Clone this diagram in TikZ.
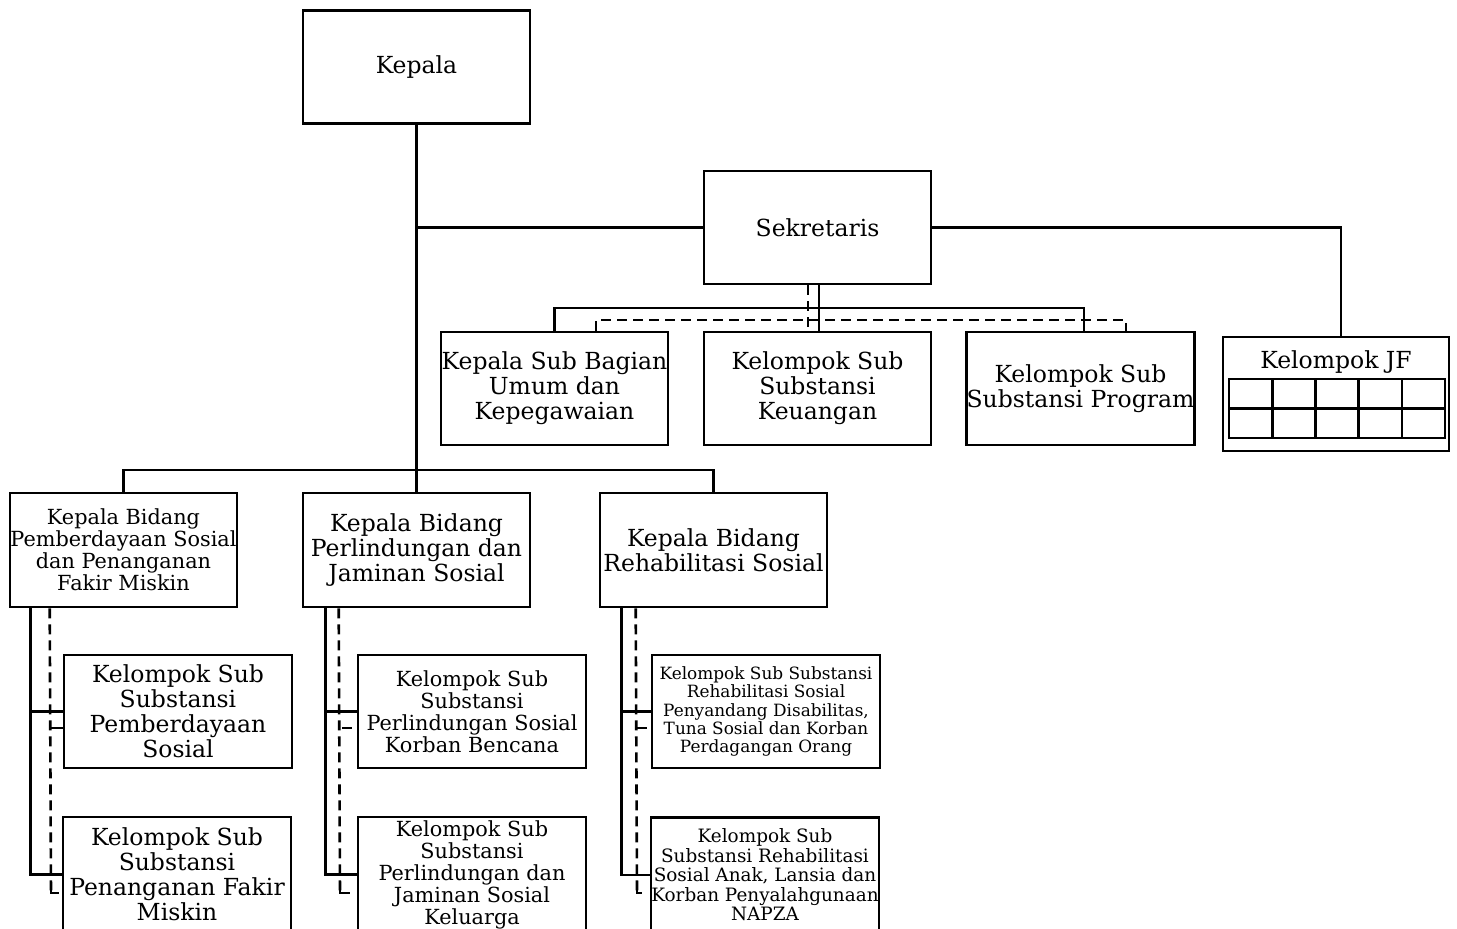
\documentclass[tikz,border=0pt]{standalone}
\usepackage{fontspec}
\setmainfont{DejaVu Serif}
\begin{document}
\begin{tikzpicture}[x=1pt,y=-1pt,
  box/.style={draw, line width=2.6pt, rectangle, inner sep=0pt, minimum width=227pt, minimum height=113pt, align=center, font=\fontsize{23.5}{25}\selectfont},
  medtxt/.style={font=\fontsize{20.8}{22}\selectfont},
  smalltxt/.style={font=\fontsize{16.9}{18.3}\selectfont},
  smalltxtb/.style={font=\fontsize{18.4}{19.5}\selectfont},
  lbl/.style={inner sep=0pt, align=center, font=\fontsize{23.5}{25}\selectfont},
  ln/.style={line width=2.6pt},
  dsh/.style={line width=2.6pt, dash pattern=on 10pt off 6pt}]
\fill[white] (0,0) rectangle (1457,929);
\useasboundingbox (0,0) rectangle (1457,929);
% top
\node[box] (kepala) at (416.5,67) {Kepala};
\node[box] (sek) at (817.5,227.5) {Sekretaris};
\node[box] (sub1) at (554.5,388.5) {Kepala Sub Bagian\\Umum dan\\Kepegawaian};
\node[box] (sub2) at (817.5,388.5) {Kelompok Sub\\Substansi\\Keuangan};
\node[box] (sub3) at (1080.5,388.5) {Kelompok Sub\\Substansi Program};
\node[box, minimum width=226pt, minimum height=114pt] (jf) at (1336,394) {};
\node[lbl] (jft) at (1336,362) {Kelompok JF};
% bidang
\node[box, minimum height=114pt, medtxt] (bid1) at (123.5,550) {Kepala Bidang\\Pemberdayaan Sosial\\dan Penanganan\\Fakir Miskin};
\node[box, minimum height=114pt] (bid2) at (416.5,550) {Kepala Bidang\\Perlindungan dan\\Jaminan Sosial};
\node[box, minimum height=114pt] (bid3) at (713.5,550) {Kepala Bidang\\Rehabilitasi Sosial};
% sub boxes
\node[box, minimum width=228pt] (subA) at (178,711.5) {Kelompok Sub\\Substansi\\Pemberdayaan\\Sosial};
\node[box, minimum width=228pt, minimum height=115pt] (subB) at (177,874.5) {Kelompok Sub\\Substansi\\Penanganan Fakir\\Miskin};
\node[box, minimum width=228pt, medtxt] (subC) at (472,711.5) {Kelompok Sub\\Substansi\\Perlindungan Sosial\\Korban Bencana};
\node[box, minimum width=228pt, minimum height=115pt, medtxt] (subD) at (472,874.5) {Kelompok Sub\\Substansi\\Perlindungan dan\\Jaminan Sosial\\Keluarga};
\node[box, minimum width=228pt, smalltxt] (subE) at (766,711.5) {Kelompok Sub Substansi\\Rehabilitasi Sosial\\Penyandang Disabilitas,\\Tuna Sosial dan Korban\\Perdagangan Orang};
\node[box, minimum width=228pt, minimum height=115pt, smalltxtb] (subF) at (765,875) {Kelompok Sub\\Substansi Rehabilitasi\\Sosial Anak, Lansia dan\\Korban Penyalahgunaan\\NAPZA};
% JF grid
\draw[ln] (1229,379) rectangle (1445,438);
\draw[ln] (1229,408.5) -- (1445,408.5);
\foreach \cx in {1272.2,1315.4,1358.6,1401.8} \draw[ln] (\cx,379) -- (\cx,438);
% main connectors
\coordinate (busB) at (0,470);
\coordinate (busS) at (0,308);
\coordinate (busD) at (0,320);
\draw[ln] (kepala.south) -- (bid2.north);
\draw[ln] (kepala.south |- sek.west) -- (sek.west);
\draw[ln] (sek.east) -| ([xshift=5]jf.north);
\draw[ln] (bid1.north) -- (bid1.north |- busB) -- (bid3.north |- busB) -- (bid3.north);
% sekretaris connectors
\draw[ln] ([xshift=1.5]sek.south) -- ([xshift=1.5]sub2.north);
\draw[ln] (sub1.north) -- (sub1.north |- busS) -- ([xshift=3.5]sub3.north |- busS) -- ([xshift=3.5]sub3.north);
\draw[dsh] ([xshift=-9.5]sek.south) -- ([xshift=-9.5]sub2.north);
\draw[dsh] ([xshift=41.5]sub1.north) -- ([xshift=41.5]sub1.north |- busD) -- ([xshift=45.5]sub3.north |- busD) -- ([xshift=45.5]sub3.north);
% left column
\coordinate (ldA) at (51,893);
\draw[ln] ([xshift=22]bid1.south west) |- (subA.west);
\draw[ln] ([xshift=22]bid1.south west) |- (subB.west);
\draw[dsh] ([xshift=41]bid1.south west) -- (ldA);
\draw[ln] ([yshift=-16.5]subA.west) -- ++(-13,0);
\draw[ln] (ldA) ++(0,-7) -- (ldA) -- ++(8,0);
% middle column
\coordinate (mdA) at (340,893);
\draw[ln] ([xshift=24]bid2.south west) |- (subC.west);
\draw[ln] ([xshift=24]bid2.south west) |- (subD.west);
\draw[dsh] ([xshift=37]bid2.south west) -- (mdA);
\draw[ln] ([yshift=-16.5,xshift=-5]subC.west) -- ++(-10,0);
\draw[ln] (mdA) ++(0,-7) -- (mdA) -- ++(10,0);
% right column
\coordinate (rdA) at (637,893);
\draw[ln] ([xshift=23]bid3.south west) |- (subE.west);
\draw[ln] ([xshift=23]bid3.south west) |- (subF.west);
\draw[dsh] ([xshift=37]bid3.south west) -- (rdA);
\draw[ln] ([yshift=-16.5,xshift=-4]subE.west) -- ++(-11,0);
\draw[ln] (rdA) ++(0,-7) -- (rdA) -- ++(5,0);
\end{tikzpicture}
\end{document}
